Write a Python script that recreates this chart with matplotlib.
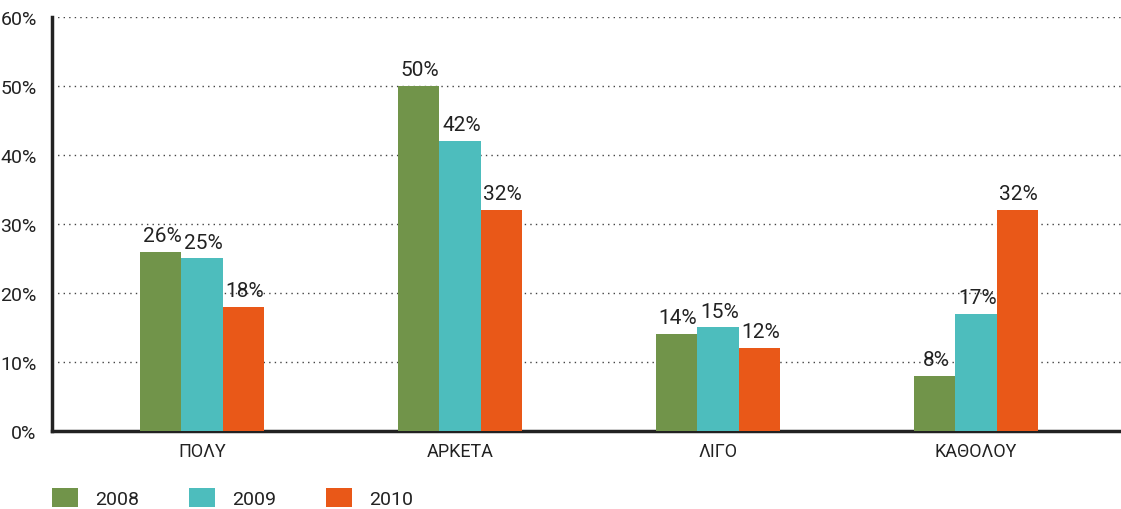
import matplotlib.pyplot as plt
import numpy as np
from matplotlib.patches import Patch

# data
categories = ['ΠΟΛΥ', 'ΑΡΚΕΤΑ', 'ΛΙΓΟ', 'ΚΑΘΟΛΟΥ']
years = ['2008', '2009', '2010']
v2008 = [26, 50, 14, 8]
v2009 = [25, 42, 15, 17]
v2010 = [18, 32, 12, 32]
yticks = [0, 10, 20, 30, 40, 50, 60]

COLORS = ['#71944a', '#4dbdbd', '#e95818']
TEXT = '#222222'

plt.rcParams['font.family'] = ['Roboto', 'DejaVu Sans']
plt.rcParams['font.size'] = 13

fig = plt.figure(figsize=(11.21, 5.10), dpi=100)
ax = fig.add_axes([0.0464, 0.153, 0.9536, 0.8117])

x = np.arange(len(categories))
w = 0.16
series = [v2008, v2009, v2010]
for i, (vals, col) in enumerate(zip(series, COLORS)):
    pos = x + (i - 1) * w
    ax.bar(pos, vals, width=w, color=col, zorder=3)
    for px, v in zip(pos, vals):
        ax.annotate(f'{v}%', (px, v), xytext=(1, 5), textcoords='offset points',
                    ha='center', va='bottom', fontsize=15, color=TEXT)

ax.set_xlim(-0.581, 3.562)
ax.set_ylim(0, 60)
ax.set_yticks(yticks)
ax.set_yticklabels([f'{t}%' for t in yticks], fontsize=14, color=TEXT)
ax.set_xticks(x)
ax.set_xticklabels(categories, fontsize=13, color=TEXT)
ax.tick_params(axis='both', length=0)
ax.tick_params(axis='y', pad=11)
ax.tick_params(axis='x', pad=8)

ax.grid(axis='y', linestyle=(0, (1, 3)), color='#444444', linewidth=1.0, zorder=0)
ax.set_axisbelow(True)
for s in ['top', 'right']:
    ax.spines[s].set_visible(False)
for s in ['left', 'bottom']:
    ax.spines[s].set_linewidth(2.5)
    ax.spines[s].set_color('#222222')

handles = [Patch(facecolor=c, edgecolor='none') for c in COLORS]
fig.legend(handles, years, loc='center left', bbox_to_anchor=(0.0464, 0.022),
           ncol=3, frameon=False, fontsize=14, handlelength=1.34, handleheight=1.2,
           handletextpad=0.88, columnspacing=2.55, borderpad=0, borderaxespad=0,
           labelcolor=TEXT)

fig.savefig('out.png', dpi=100)
